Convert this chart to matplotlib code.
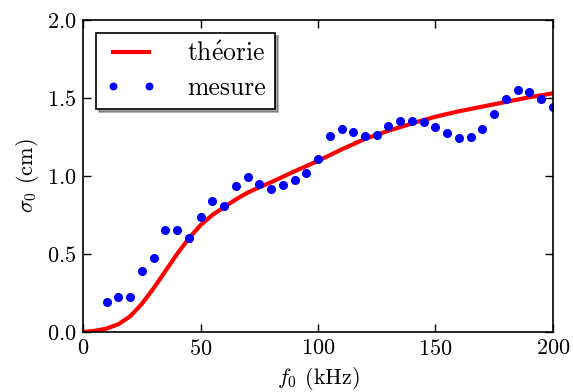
import numpy as np
import matplotlib
matplotlib.use("Agg")
import matplotlib.pyplot as plt

plt.rcParams['font.family'] = ['cmr10', 'DejaVu Serif']
plt.rcParams['mathtext.fontset'] = 'cm'
plt.rcParams['axes.formatter.use_mathtext'] = True

# theory curve
f_th = [0, 5, 10, 15, 20, 25, 30, 35, 40, 45, 50, 55, 60, 65, 70, 75, 80, 90, 100,
        110, 120, 130, 140, 150, 160, 170, 180, 190, 200]
s_th = [0.0, 0.008, 0.022, 0.05, 0.1, 0.18, 0.28, 0.39, 0.5, 0.6, 0.685, 0.75,
        0.8, 0.85, 0.893, 0.928, 0.96, 1.03, 1.097, 1.17, 1.238, 1.29, 1.337, 1.38,
        1.415, 1.445, 1.475, 1.505, 1.53]

# measurements
f_mes = [10, 15, 20, 25, 30, 35, 40, 45, 50, 55, 60, 65, 70, 75, 80, 85, 90, 95,
         100, 105, 110, 115, 120, 125, 130, 135, 140, 145, 150, 155, 160, 165,
         170, 175, 180, 185, 190, 195, 200]
s_mes = [0.19, 0.225, 0.222, 0.39, 0.476, 0.652, 0.652, 0.605, 0.739, 0.838,
         0.806, 0.936, 0.996, 0.947, 0.919, 0.94, 0.974, 1.019, 1.107, 1.254,
         1.301, 1.28, 1.254, 1.265, 1.318, 1.352, 1.355, 1.344, 1.316, 1.276,
         1.246, 1.248, 1.299, 1.395, 1.496, 1.551, 1.538, 1.492, 1.442]

fig = plt.figure(figsize=(5.73, 3.92), dpi=100)
ax = fig.add_axes([0.145, 0.153, 0.82, 0.796])

ax.plot(f_th, s_th, color='red', lw=3, label=r'$\mathrm{th\acute{e}orie}$')
ax.plot(f_mes, s_mes, 'o', color='blue', ms=5.5, mec='blue', label='mesure')

ax.set_xlim(0, 200)
ax.set_ylim(0, 2.0)
ax.set_xticks([0, 50, 100, 150, 200])
ax.set_yticks([0, 0.5, 1.0, 1.5, 2.0])
ax.tick_params(direction='in', top=True, right=True, labelsize=16, length=6, width=1, pad=5)
for sp in ax.spines.values():
    sp.set_linewidth(1.2)

ax.set_xlabel(r'$f_0$ (kHz)', fontsize=16)
ax.set_ylabel(r'$\sigma_0$ (cm)', fontsize=16)

leg = ax.legend(loc='upper left', numpoints=2, fontsize=18.5, shadow=True,
                fancybox=False, framealpha=1, edgecolor='black',
                handlelength=2.0, handletextpad=1.2, borderaxespad=0.5,
                labelspacing=0.4, borderpad=0.35, markerscale=0.85)
leg.get_frame().set_linewidth(1.2)

plt.savefig("out.png", dpi=100)
